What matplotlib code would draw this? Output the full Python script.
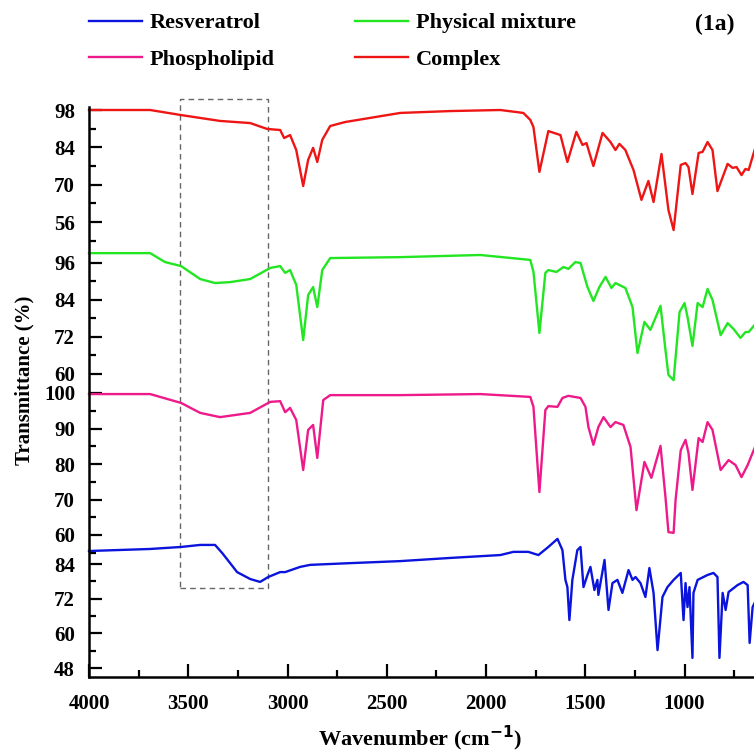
import numpy as np
import matplotlib.pyplot as plt
from matplotlib.patches import Rectangle

plt.rcParams['font.family'] = ['Liberation Serif', 'DejaVu Serif']
plt.rcParams['font.weight'] = 'bold'

# Resveratrol (blue)
res_wn = [4000, 3692, 3536, 3440, 3365, 3329, 3289, 3254, 3188, 3138, 3097, 3037, 3012,
          2936, 2886, 2684, 2432, 2180, 1928, 1862, 1787, 1736, 1686, 1640, 1615, 1600,
          1590, 1580, 1565, 1540, 1524, 1509, 1489, 1474, 1454, 1439, 1434, 1403, 1383,
          1363, 1338, 1313, 1282, 1262, 1247, 1222, 1197, 1177, 1156, 1136, 1111, 1086,
          1055, 1019, 1005, 995, 985, 975, 960, 955, 934, 884, 854, 834, 824, 808, 793,
          778, 733, 703, 682, 672, 657, 647]
res_t = [88.5, 89.2, 89.9, 90.6, 90.6, 87.8, 84.3, 81.2, 78.8, 77.8, 79.5, 81.2, 81.2,
         83.0, 83.7, 84.3, 85.0, 86.1, 87.1, 88.2, 88.2, 87.1, 89.9, 92.7, 88.8, 78.5,
         76.0, 64.6, 78.5, 88.8, 89.9, 76.0, 80.2, 83.0, 75.0, 78.5, 73.3, 85.4, 68.1,
         77.4, 78.5, 74.0, 81.9, 78.5, 79.5, 77.4, 72.6, 82.6, 74.0, 54.2, 72.6, 76.0,
         78.5, 80.9, 64.6, 77.4, 69.1, 76.0, 51.5, 74.0, 78.5, 80.2, 80.9, 79.5, 51.5,
         74.0, 68.1, 74.3, 76.7, 77.8, 76.7, 56.7, 69.1, 70.5]

# Phospholipid (pink)
pho_wn = [4000, 3692, 3536, 3440, 3340, 3188, 3087, 3037, 3012, 2987, 2956, 2921, 2896,
          2871, 2850, 2820, 2785, 2432, 2029, 1777, 1761, 1731, 1701, 1686, 1640, 1615,
          1585, 1524, 1499, 1484, 1459, 1434, 1408, 1373, 1348, 1308, 1272, 1242, 1202,
          1167, 1121, 1096, 1081, 1055, 1045, 1019, 995, 980, 960, 929, 909, 884, 859,
          818, 778, 743, 713, 682, 647]
pho_t = [99.7, 99.7, 97.2, 94.4, 93.2, 94.4, 97.5, 97.7, 94.6, 95.8, 92.4, 78.3, 89.6,
         91.0, 81.7, 98.0, 99.4, 99.4, 99.7, 98.9, 96.1, 72.1, 95.2, 96.3, 96.1, 98.6,
         99.2, 98.6, 96.1, 90.4, 85.4, 90.4, 93.2, 90.4, 91.8, 91.0, 84.8, 67.0, 80.6,
         76.1, 85.1, 70.7, 60.8, 60.6, 69.9, 83.9, 86.8, 83.1, 72.7, 87.3, 86.2, 91.8,
         89.6, 78.3, 81.1, 79.7, 76.3, 79.7, 84.5]

# Physical mixture (green)
mix_wn = [4000, 3692, 3617, 3536, 3440, 3365, 3289, 3188, 3087, 3037, 3012, 2987, 2956,
          2921, 2896, 2871, 2850, 2825, 2785, 2432, 2029, 1777, 1761, 1731, 1701, 1686,
          1645, 1610, 1585, 1550, 1524, 1489, 1459, 1429, 1398, 1368, 1348, 1298, 1262,
          1237, 1202, 1172, 1121, 1096, 1081, 1055, 1025, 1000, 985, 960, 934, 909, 884,
          859, 818, 783, 753, 718, 693, 677, 647]
mix_t = [99.2, 99.2, 96.3, 95.0, 90.8, 89.5, 89.8, 90.8, 94.4, 95.0, 92.8, 93.7, 88.9,
         71.0, 85.6, 88.2, 81.7, 93.7, 97.6, 97.9, 98.6, 97.0, 93.1, 73.3, 92.8, 93.7,
         93.1, 94.7, 94.1, 96.3, 96.0, 88.2, 83.7, 88.2, 91.5, 87.9, 89.5, 87.9, 81.7,
         66.8, 76.9, 74.3, 82.1, 67.8, 59.7, 58.0, 80.1, 83.0, 78.5, 69.1, 83.0, 81.7,
         87.6, 84.0, 72.6, 76.5, 74.6, 71.7, 73.6, 73.6, 75.9]

# Complex (red)
com_wn = [4000, 3692, 3536, 3340, 3188, 3103, 3037, 3017, 2987, 2956, 2921, 2896, 2871,
          2850, 2825, 2785, 2709, 2432, 2180, 1928, 1812, 1777, 1761, 1731, 1686, 1625,
          1590, 1545, 1514, 1494, 1459, 1413, 1373, 1348, 1328, 1298, 1257, 1217, 1182,
          1156, 1116, 1081, 1055, 1019, 995, 980, 960, 929, 909, 884, 859, 834, 783, 758,
          738, 713, 693, 677, 647]
com_t = [98.0, 98.0, 96.1, 93.9, 93.1, 90.9, 90.5, 87.5, 88.6, 83.0, 69.5, 79.3, 83.8,
         78.5, 86.8, 92.0, 93.5, 96.9, 97.6, 98.0, 96.9, 94.3, 91.6, 74.8, 90.1, 88.6,
         78.5, 89.8, 84.9, 85.6, 77.0, 89.4, 86.0, 83.0, 85.3, 83.0, 75.5, 64.3, 71.4,
         63.5, 81.5, 60.5, 53.0, 77.4, 78.1, 76.6, 66.5, 81.9, 82.3, 86.0, 83.0, 67.6,
         77.8, 76.3, 76.6, 73.6, 75.9, 75.5, 83.0]

# tick values shown on the left axis, per spectrum
com_ticks = [98, 84, 70, 56]
mix_ticks = [96, 84, 72, 60]
pho_ticks = [100, 90, 80, 70, 60]
res_ticks = [84, 72, 60, 48]
com_minor = [91, 77, 63, 49]
mix_minor = [90, 78, 66]
pho_minor = [95, 85, 75, 65, 55]
res_minor = [78, 66, 54]

# stacking: (reference value, its height in the stack, height per % T)
stack = {
    'com': (98, 567, 2.667),
    'mix': (96, 414, 3.083),
    'pho': (100, 284, 3.55),
    'res': (84, 113, 2.889),
}

def place(key, vals):
    ref, base, k = stack[key]
    return base + (np.asarray(vals, float) - ref) * k

fig = plt.figure(figsize=(7.54, 7.55), dpi=100)
ax = fig.add_axes([89 / 754, 78 / 755, 1 - 89 / 754, 570 / 755])

lw = 1.7
l_res, = ax.plot(res_wn, place('res', res_t), color='#0a14dc', lw=lw, clip_on=False)
l_pho, = ax.plot(pho_wn, place('pho', pho_t), color='#ee1a8a', lw=lw, clip_on=False)
l_mix, = ax.plot(mix_wn, place('mix', mix_t), color='#22e622', lw=lw, clip_on=False)
l_com, = ax.plot(com_wn, place('com', com_t), color='#ee1515', lw=lw, clip_on=False)

ax.set_xlim(4000, 650)
ax.set_ylim(0, 570)

yt, yl = [], []
for key, tk in [('com', com_ticks), ('mix', mix_ticks), ('pho', pho_ticks), ('res', res_ticks)]:
    yt += list(place(key, tk))
    yl += [str(v) for v in tk]
ax.set_yticks(yt)
ax.set_yticklabels(yl)
ym = []
for key, tk in [('com', com_minor), ('mix', mix_minor), ('pho', pho_minor), ('res', res_minor)]:
    ym += list(place(key, tk))
ax.set_yticks(ym, minor=True)

ax.set_xticks([4000, 3500, 3000, 2500, 2000, 1500, 1000])
ax.set_xticks([3750, 3250, 2750, 2250, 1750, 1250, 750], minor=True)

for s in ['top', 'right']:
    ax.spines[s].set_visible(False)
for s in ['left', 'bottom']:
    ax.spines[s].set_linewidth(1.8)

ax.tick_params(which='major', direction='in', length=9.5, width=1.6, labelsize=15, pad=10)
ax.tick_params(which='minor', direction='in', length=4.8, width=1.6)
ax.tick_params(axis='x', which='major', pad=12)

# dashed box round the O-H region
box = Rectangle((3540, 89), 3100 - 3540, 578 - 89, fill=False, ls=(0, (4, 3)),
                lw=1.0, ec='#666666', clip_on=False)
ax.add_patch(box)

fig.text(24 / 754, 1 - 380 / 755, 'Transmittance (%)', rotation=90, ha='center',
         va='center', fontsize=15, fontweight='bold')
fig.text(420 / 754, 1 - 738 / 755, 'Wavenumber (cm$^{\\mathbf{-1}}$)', ha='center',
         va='center', fontsize=16, fontweight='bold')
fig.text(715 / 754, 1 - 24 / 755, '(1a)', ha='center', va='center', fontsize=17,
         fontweight='bold')

fig.legend([l_res, l_pho, l_mix, l_com],
           ['Resveratrol', 'Phospholipid', 'Physical mixture', 'Complex'],
           ncol=2, frameon=False, loc='upper left', bbox_to_anchor=(80 / 754, 1 - 4 / 755),
           prop={'size': 16, 'weight': 'bold'}, handlelength=2.4, handletextpad=0.35,
           columnspacing=3.6, labelspacing=0.7, borderaxespad=0)

fig.savefig('out.png', dpi=100)
